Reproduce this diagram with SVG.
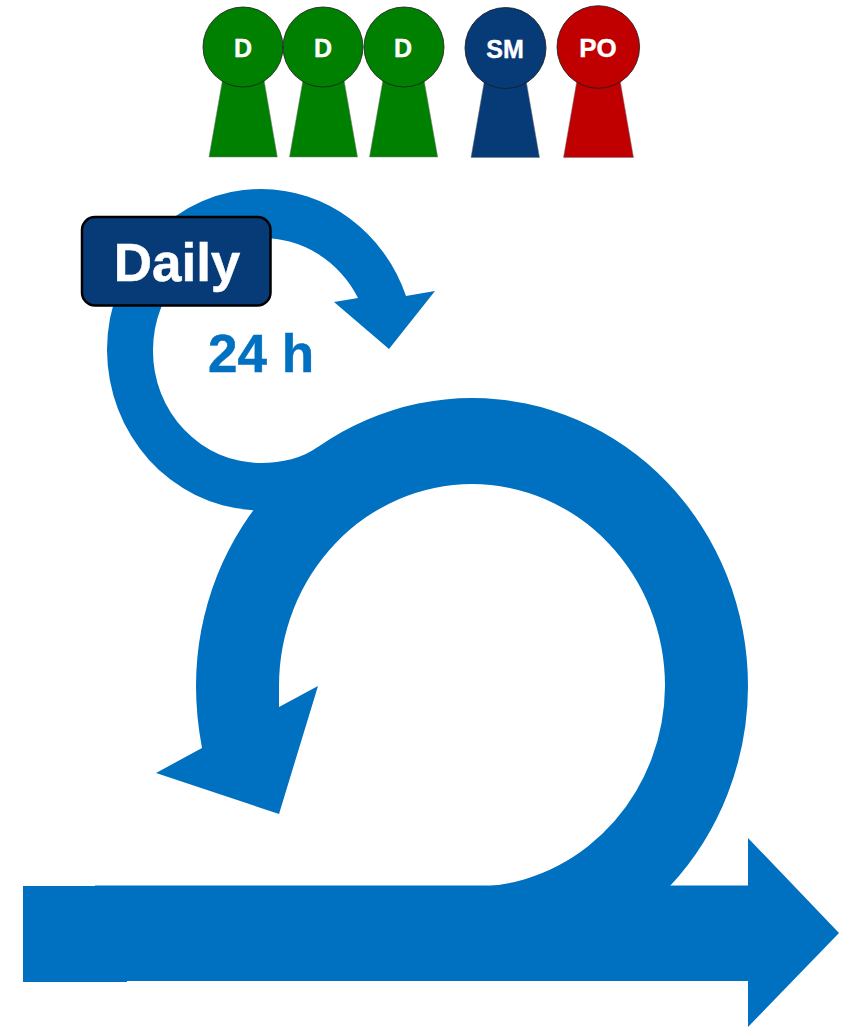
<svg xmlns="http://www.w3.org/2000/svg" width="848" height="1027" viewBox="0 0 848 1027">
<style>
.flow{fill:#0070C0}
.lab{font-family:"Liberation Sans",Arial,sans-serif;font-weight:bold;text-anchor:middle}
.pawn path{stroke:#777;stroke-width:.5}
.pawn circle{stroke:#1a1a1a;stroke-width:.8}
.pawn text{fill:#fff;font-size:25px;stroke:#fff;stroke-width:.4}
.g{fill:#008000}.b{fill:#073B78}.r{fill:#C00000}
</style>
<rect width="848" height="1027" fill="#fff"/>
<g id="connectors">
<path id="daily-loop" class="flow" d="M251,510 A154,161 0 0 1 107,350 A154,161 0 0 1 261,189 A154,161 0 0 1 406,296 L435,291 L389,349 L334,302 L358,298 A108,112 0 0 0 261,238 A108,112 0 0 0 153,350 A108,112 0 0 0 261,463 C282,463 302,458 318,447 L330,520 Z"/>
<path id="sprint-loop" class="flow" d="M202,748 Q196,716 196,686 A276,288 0 0 1 748,686 A276,288 0 0 1 670,886 L670,900 L490,900 L490,886 A193,202 0 0 0 665,686 A193,202 0 0 0 279,686 Q279,697 279,707 L318,686 L279,814 L156,773 Z"/>
<rect class="flow" x="23" y="886" width="104" height="96"/>
<path id="main-arrow" class="flow" d="M95,885.500 H748 V838 L839,933 L748,1027 V981 H95 Z"/>
</g>
<g id="daily">
<rect x="82" y="217" width="188.500" height="88.500" rx="13" fill="#073B78" stroke="#000" stroke-width="2.500"/>
<text class="lab" x="177" y="281" font-size="53" fill="#fff" stroke="#fff" stroke-width=".5">Daily</text>
</g>
<g id="duration"><text class="lab" x="261" y="372" font-size="53" fill="#0070C0" stroke="#0070C0" stroke-width=".5">24 h</text></g>
<g id="dev1" class="pawn"><path class="g" d="M222.500,80 H264 L277.300,157 H209 Z"/><circle class="g" cx="243" cy="47" r="40"/><text class="lab" x="243" y="57">D</text></g>
<g id="dev2" class="pawn"><path class="g" d="M303,80 H344 L357.500,157 H289.500 Z"/><circle class="g" cx="323" cy="47" r="40"/><text class="lab" x="323" y="57">D</text></g>
<g id="dev3" class="pawn"><path class="g" d="M383,80 H424 L437.700,157 H369.500 Z"/><circle class="g" cx="404" cy="47" r="40"/><text class="lab" x="403" y="57">D</text></g>
<g id="sm" class="pawn"><path class="b" d="M484.500,80 H526 L539.500,157.500 H471 Z"/><circle class="b" cx="505.500" cy="48" r="40.500"/><text class="lab" x="505" y="58">SM</text></g>
<g id="po" class="pawn"><path class="r" d="M577,80 H620 L633.500,157.500 H563.500 Z"/><circle class="r" cx="598.300" cy="47" r="41.300"/><text class="lab" x="598" y="57" style="font-size:26px">PO</text></g>
</svg>
